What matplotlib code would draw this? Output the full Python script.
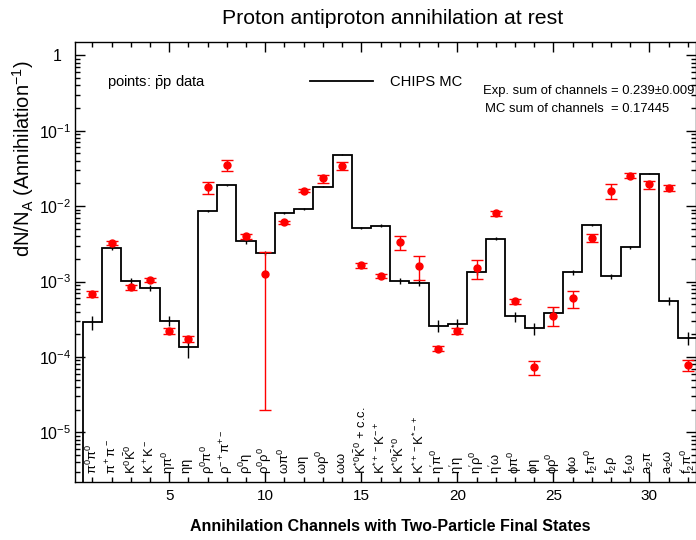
import numpy as np
import matplotlib
matplotlib.use('Agg')
import matplotlib.pyplot as plt
from matplotlib.ticker import LogLocator, FixedLocator, MultipleLocator, FuncFormatter, NullFormatter

plt.rcParams['font.family'] = ['Liberation Sans', 'DejaVu Sans']
plt.rcParams['mathtext.fontset'] = 'custom'
plt.rcParams['mathtext.rm'] = 'Liberation Sans'
plt.rcParams['mathtext.it'] = 'Liberation Sans:italic'
plt.rcParams['mathtext.bf'] = 'Liberation Sans:bold'
plt.rcParams['mathtext.default'] = 'regular'

channels = list(range(1, 33))
channel_labels = [
    r'$\pi^0\pi^0$', r'$\pi^+\pi^-$', r'$K^0\bar{K}^0$', r'$K^+K^-$', r'$\eta\pi^0$',
    r'$\eta\eta$', r'$\rho^0\pi^0$', r'$\rho^{-+}\pi^{+-}$', r'$\rho^0\eta$', r'$\rho^0\rho^0$',
    r'$\omega\pi^0$', r'$\omega\eta$', r'$\omega\rho^0$', r'$\omega\omega$',
    r'$K^{*0}\bar{K}^0$ + c.c.', r'$K^{*+-}K^{-+}$', r'$K^{*0}\bar{K}^{*0}$', r'$K^{*+-}K^{*-+}$',
    r"$\eta'\pi^0$", r"$\eta'\eta$", r"$\eta'\rho^0$", r"$\eta'\omega$",
    r'$\phi\pi^0$', r'$\phi\eta$', r'$\phi\rho^0$', r'$\phi\omega$',
    r'$f_2\pi^0$', r'$f_2\rho$', r'$f_2\omega$', r'$a_2\pi$', r'$a_2\omega$', r"$f_2'\pi^0$",
]

# CHIPS MC (histogram)
mc = [2.9e-4, 2.77e-3, 1.02e-3, 8.3e-4, 3.04e-4, 1.37e-4, 8.58e-3, 1.88e-2,
      3.4e-3, 2.4e-3, 8.07e-3, 9.2e-3, 1.82e-2, 4.8e-2, 5.16e-3, 5.5e-3,
      1.01e-3, 9.7e-4, 2.6e-4, 2.7e-4, 1.32e-3, 3.69e-3, 3.47e-4, 2.4e-4,
      3.84e-4, 1.32e-3, 5.6e-3, 1.17e-3, 2.83e-3, 2.69e-2, 5.5e-4, 1.8e-4]
mc_err = [6e-5, 1.4e-4, 8e-5, 8e-5, 4.5e-5, 4e-5, 2.6e-4, 3.8e-4,
          2.7e-4, 1.4e-4, 2.4e-4, 2.8e-4, 3.6e-4, 7e-4, 2e-4, 2.2e-4,
          9e-5, 1e-4, 4.7e-5, 4.9e-5, 1.1e-4, 1.5e-4, 5.2e-5, 4.3e-5,
          5.8e-5, 9e-5, 2.2e-4, 9e-5, 1.4e-4, 5.4e-4, 6.6e-5, 3.6e-5]

# experimental pbar-p data
data = [6.87e-4, 3.27e-3, 8.4e-4, 1.04e-3, 2.24e-4, 1.73e-4, 1.77e-2, 3.5e-2,
        3.96e-3, 1.25e-3, 6.13e-3, 1.61e-2, 2.33e-2, 3.4e-2, 1.65e-3, 1.18e-3,
        3.33e-3, 1.6e-3, 1.29e-4, 2.24e-4, 1.52e-3, 8.0e-3, 5.5e-4, 7.3e-5,
        3.54e-4, 6.0e-4, 3.8e-3, 1.61e-2, 2.53e-2, 1.94e-2, 1.75e-2, 7.9e-5]
data_err = [7e-5, 2e-4, 6e-5, 6e-5, 2e-5, 1.5e-5, 3e-3, 6e-3,
            3e-4, 1.23e-3, 3e-4, 9e-4, 2.8e-3, 4e-3, 1.2e-4, 7e-5,
            7e-4, 5.6e-4, 1e-5, 2e-5, 4.3e-4, 6e-4, 4e-5, 1.6e-5,
            1.0e-4, 1.6e-4, 5e-4, 3.5e-3, 1.8e-3, 2.3e-3, 1.8e-3, 1.3e-5]

fig = plt.figure(figsize=(6.96, 5.4), dpi=100)
ax = fig.add_axes([75/696, 58/540, 621/696, 440/540])

edges = np.arange(len(mc) + 1) + 0.5
ax.stairs(mc, edges, baseline=1e-9, color='black', lw=1.3)
ax.errorbar(channels, mc, yerr=mc_err, fmt='none', ecolor='black', elinewidth=1)
ax.errorbar(channels, data, yerr=data_err, fmt='o', color='red', ms=5,
            capsize=4, elinewidth=1, capthick=1)

ax.set_yscale('log')
ax.set_ylim(2.2e-6, 1.5)
ax.set_xlim(0.09, 32.43)

ax.xaxis.set_major_locator(FixedLocator([5, 10, 15, 20, 25, 30]))
ax.xaxis.set_minor_locator(MultipleLocator(1))
ax.yaxis.set_major_locator(LogLocator(base=10, numticks=20))
ax.yaxis.set_minor_locator(LogLocator(base=10, subs=np.arange(2, 10), numticks=20))
ax.yaxis.set_minor_formatter(NullFormatter())


def yfmt(v, pos):
    e = int(round(np.log10(v)))
    return '1  ' if e == 0 else r'$10^{%d}$' % e


ax.yaxis.set_major_formatter(FuncFormatter(yfmt))
ax.tick_params(which='both', direction='in', top=True, right=True, width=1)
ax.tick_params(which='major', length=7.2)
ax.tick_params(which='minor', length=3.6)
ax.tick_params(axis='x', labelsize=11, pad=5)
ax.tick_params(axis='y', labelsize=11.5, pad=3)
for s in ax.spines.values():
    s.set_linewidth(1)

for x, lab in zip(channels, channel_labels):
    ax.text(x, 0.018, lab, rotation=90, ha='center', va='bottom', fontsize=9.4,
            transform=ax.get_xaxis_transform())

fig.text(393/696, 1 - 18/540, 'Proton antiproton annihilation at rest',
         ha='center', va='center', fontsize=15.3)
ax.set_xlabel('Annihilation Channels with Two-Particle Final States',
              fontsize=11.5, fontweight='bold')
ax.xaxis.set_label_coords(0.508, -0.083)
ax.set_ylabel(r'dN/N$_A$ (Annihilation$^{-1}$)', fontsize=14.5)
ax.yaxis.set_label_coords(-0.062, 0.735)

fig.text(107/696, 1 - 82/540, r'points: $\bar{p}$p data', ha='left', va='center', fontsize=10.6)
fig.lines.append(plt.Line2D([310/696, 373/696], [1 - 81/540, 1 - 81/540],
                            transform=fig.transFigure, color='black', lw=1.3))
fig.text(390/696, 1 - 82/540, 'CHIPS MC', ha='left', va='center', fontsize=10.6)
fig.text(483/696, 1 - 91/540, 'Exp. sum of channels = 0.239\u00b10.009',
         ha='left', va='center', fontsize=9.4)
fig.text(485/696, 1 - 109/540, 'MC sum of channels  = 0.17445',
         ha='left', va='center', fontsize=9.4)

fig.savefig('out.png', dpi=100)
